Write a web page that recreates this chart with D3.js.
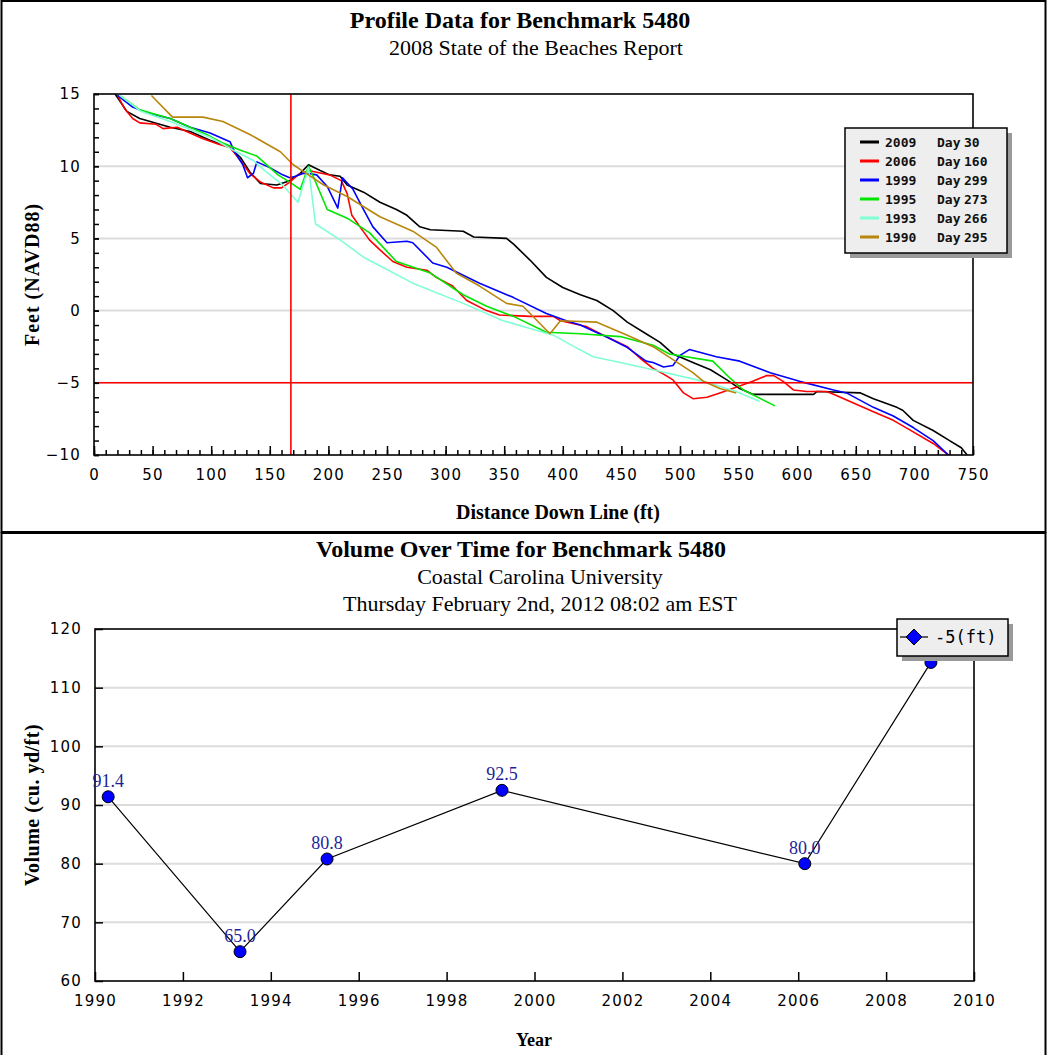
<!DOCTYPE html>
<html>
<head>
<meta charset="utf-8">
<script src="https://cdn.jsdelivr.net/npm/d3@7"></script>
<style>
  body { margin: 0; background: #fff; }
</style>
</head>
<body>
<svg id="chart" width="1047" height="1055"></svg>
<script>
// ---- profile data (distance down line in ft, elevation in ft NAVD88) ----
const dist2009 = [18, 28, 39, 65, 82, 99, 116, 125, 133, 142, 156, 167, 176, 183, 193, 201, 210, 216, 230, 244, 258, 267, 278, 287, 315, 324, 352, 358, 372, 386, 400, 415, 429, 443, 455, 471, 483, 494, 511, 526, 540, 551, 562, 614, 617, 654, 665, 685, 690, 699, 716, 730, 740, 745];
const elev2009 = [15.0, 13.8, 13.3, 12.7, 12.4, 11.8, 11.3, 10.6, 9.6, 8.8, 8.7, 9.0, 9.5, 10.1, 9.7, 9.4, 9.3, 8.7, 8.2, 7.5, 7.0, 6.6, 5.8, 5.6, 5.5, 5.1, 5.0, 4.6, 3.5, 2.3, 1.6, 1.1, 0.7, 0.0, -0.8, -1.6, -2.2, -3.0, -3.6, -4.1, -4.8, -5.4, -5.8, -5.8, -5.6, -5.7, -6.1, -6.7, -6.9, -7.6, -8.3, -9.0, -9.5, -10.0];

const dist2006 = [20, 26, 33, 39, 53, 59, 71, 79, 93, 107, 116, 125, 133, 142, 153, 160, 167, 174, 178, 183, 195, 201, 211, 216, 220, 227, 235, 244, 255, 267, 284, 292, 306, 318, 335, 346, 372, 392, 398, 420, 437, 455, 466, 477, 486, 494, 503, 511, 523, 534, 548, 562, 574, 580, 588, 597, 608, 625, 631, 648, 665, 682, 699, 716, 729];
const elev2006 = [14.9, 14.0, 13.3, 13.0, 12.9, 12.6, 12.7, 12.4, 11.9, 11.5, 11.3, 10.4, 9.5, 8.9, 8.5, 8.5, 8.9, 9.4, 9.5, 9.7, 9.5, 9.4, 9.0, 8.1, 6.6, 5.8, 4.9, 4.2, 3.4, 3.0, 2.8, 2.3, 1.7, 0.7, 0.0, -0.3, -0.4, -0.4, -0.7, -1.1, -1.8, -2.5, -3.3, -4.0, -4.4, -4.8, -5.7, -6.1, -6.0, -5.7, -5.3, -4.9, -4.5, -4.5, -4.9, -5.5, -5.6, -5.6, -5.8, -6.4, -7.0, -7.6, -8.4, -9.2, -10.0];

const dist1999 = [20, 33, 45, 65, 82, 99, 116, 120, 127, 131, 136, 139, 150, 161, 167, 172, 178, 183, 190, 199, 208, 212, 221, 230, 238, 250, 267, 272, 289, 301, 329, 358, 386, 403, 415, 434, 454, 471, 477, 486, 494, 500, 508, 531, 551, 577, 602, 631, 642, 665, 682, 699, 716, 729];
const elev1999 = [14.9, 14.1, 13.7, 13.3, 12.7, 12.3, 11.7, 11.0, 10.1, 9.2, 9.5, 10.3, 9.9, 9.4, 9.2, 9.3, 9.5, 9.5, 9.4, 8.6, 7.1, 9.2, 8.4, 7.0, 5.8, 4.7, 4.8, 4.7, 3.3, 3.0, 1.9, 0.9, -0.2, -0.7, -1.0, -1.7, -2.5, -3.5, -3.6, -3.9, -3.8, -3.1, -2.7, -3.2, -3.5, -4.3, -4.9, -5.5, -5.7, -6.7, -7.3, -8.1, -9.0, -10.0];

const dist1995 = [22, 39, 65, 82, 96, 110, 125, 139, 157, 167, 176, 183, 187, 199, 216, 235, 258, 287, 315, 335, 358, 386, 415, 449, 477, 491, 528, 543, 554, 581];
const elev1995 = [14.9, 13.9, 13.3, 12.7, 12.2, 11.6, 11.1, 10.7, 9.4, 8.9, 8.4, 10.0, 9.3, 7.0, 6.4, 5.4, 3.4, 2.6, 1.1, 0.3, -0.4, -1.5, -1.6, -1.8, -2.4, -3.0, -3.5, -4.7, -5.5, -6.6];

const dist1993 = [22, 40, 65, 99, 119, 136, 147, 161, 174, 183, 189, 210, 230, 272, 315, 349, 392, 412, 426, 449, 477, 520, 548, 568];
const elev1993 = [14.9, 13.8, 13.1, 12.0, 11.1, 10.4, 9.6, 8.7, 7.5, 9.9, 6.0, 4.9, 3.7, 1.9, 0.5, -0.7, -1.7, -2.6, -3.2, -3.6, -4.1, -4.9, -5.6, -6.3];

const dist1990 = [49, 67, 93, 110, 133, 159, 170, 181, 196, 216, 244, 272, 292, 309, 329, 352, 366, 389, 398, 429, 455, 477, 494, 511, 520, 534, 548];
const elev1990 = [14.9, 13.4, 13.4, 13.1, 12.2, 11.0, 10.1, 9.5, 8.7, 7.9, 6.5, 5.5, 4.4, 2.6, 1.7, 0.5, 0.3, -1.6, -0.7, -0.8, -1.7, -2.5, -3.4, -4.3, -4.9, -5.4, -5.7];

const surveyYears = ['2009', '2006', '1999', '1995', '1993', '1990'];
const surveyDays = ['30', '160', '299', '273', '266', '295'];
const distTicks = [0, 50, 100, 150, 200, 250, 300, 350, 400, 450, 500, 550, 600, 650, 700, 750];
const elevTicks = [-10, -5, 0, 5, 10, 15];
const markerDist = 168;
const markerElev = -5;

// ---- volume data ----
const volYears = [1990.3, 1993.3, 1995.28, 1999.26, 2006.15, 2009.02];
const volValues = [91.4, 65.0, 80.8, 92.5, 80.0, 114.3];
const yearTicks = [1990, 1992, 1994, 1996, 1998, 2000, 2002, 2004, 2006, 2008, 2010];
const volTicks = [60, 70, 80, 90, 100, 110, 120];

const series = [
  { dist: dist2009, elev: elev2009, color: '#000000' },
  { dist: dist2006, elev: elev2006, color: '#ff0000' },
  { dist: dist1999, elev: elev1999, color: '#0000ff' },
  { dist: dist1995, elev: elev1995, color: '#00e600' },
  { dist: dist1993, elev: elev1993, color: '#80ffd4' },
  { dist: dist1990, elev: elev1990, color: '#b8860b' }
];

const serif = '"Liberation Serif", "Times New Roman", serif';
const sans = '"DejaVu Sans", Verdana, sans-serif';
const mono = '"DejaVu Sans Mono", monospace';

const svg = d3.select('#chart');

// panel frames
svg.append('rect').attr('x', 1.5).attr('y', 1).attr('width', 1044).attr('height', 531)
  .attr('fill', 'none').attr('stroke', '#000').attr('stroke-width', 2);
svg.append('rect').attr('x', 1.5).attr('y', 533).attr('width', 1044).attr('height', 530)
  .attr('fill', 'none').attr('stroke', '#000').attr('stroke-width', 2);

function styleAxis(g) {
  g.select('.domain').remove();
  g.attr('font-family', sans).attr('font-size', 15);
  g.selectAll('.tick line').attr('stroke', '#000').attr('stroke-width', 1.5);
  g.selectAll('.tick text').attr('fill', '#000').attr('letter-spacing', 1.2);
}

function title(x, y, txt, bold) {
  svg.append('text').attr('x', x).attr('y', y).attr('text-anchor', 'middle')
    .attr('font-family', serif)
    .attr('font-weight', bold ? 'bold' : 'normal')
    .attr('font-size', bold ? 24 : 22)
    .text(txt);
}

// =================== top chart: profiles ===================
const x1 = d3.scaleLinear().domain([0, 750]).range([94, 973]);
const y1 = d3.scaleLinear().domain([-10, 15]).range([455, 94]);

title(520, 28, 'Profile Data for Benchmark 5480', true);
title(536, 55, '2008 State of the Beaches Report', false);

// gridlines
svg.append('g').selectAll('line')
  .data(elevTicks.filter(d => d > -10 && d < 15))
  .join('line')
  .attr('x1', x1(0)).attr('x2', x1(750))
  .attr('y1', d => y1(d)).attr('y2', d => y1(d))
  .attr('stroke', '#dcdcdc').attr('stroke-width', 2);

svg.append('defs').append('clipPath').attr('id', 'clip1')
  .append('rect').attr('x', x1(0)).attr('y', y1(15))
  .attr('width', x1(750) - x1(0)).attr('height', y1(-10) - y1(15));

const line1 = d3.line().x(d => x1(d[0])).y(d => y1(d[1]));
const lines = svg.append('g').attr('clip-path', 'url(#clip1)');
series.forEach(s => {
  lines.append('path')
    .datum(s.dist.map((d, i) => [d, s.elev[i]]))
    .attr('d', line1)
    .attr('fill', 'none')
    .attr('stroke', s.color)
    .attr('stroke-width', 1.6)
    .attr('stroke-linejoin', 'round');
});

// red reference lines
lines.append('line').attr('x1', x1(markerDist)).attr('x2', x1(markerDist))
  .attr('y1', y1(15)).attr('y2', y1(-10)).attr('stroke', '#ff0000').attr('stroke-width', 1.6);
lines.append('line').attr('x1', x1(0)).attr('x2', x1(750))
  .attr('y1', y1(markerElev)).attr('y2', y1(markerElev)).attr('stroke', '#ff0000').attr('stroke-width', 1.6);

// axes
svg.append('g').attr('transform', `translate(0,${y1(-10)})`)
  .call(d3.axisBottom(x1).tickValues(d3.range(0, 751, 10)).tickSize(-5).tickFormat(''))
  .call(styleAxis);
svg.append('g').attr('transform', `translate(0,${y1(-10)})`)
  .call(d3.axisBottom(x1).tickValues(distTicks).tickSize(-9).tickPadding(14))
  .call(styleAxis);
svg.append('g').attr('transform', `translate(${x1(0)},0)`)
  .call(d3.axisLeft(y1).tickValues(d3.range(-10, 16, 1)).tickSize(-5).tickFormat(''))
  .call(styleAxis);
svg.append('g').attr('transform', `translate(${x1(0)},0)`)
  .call(d3.axisLeft(y1).tickValues(elevTicks).tickSize(-5).tickPadding(13).tickFormat(d3.format('d')))
  .call(styleAxis);

svg.append('rect').attr('x', x1(0)).attr('y', y1(15))
  .attr('width', x1(750) - x1(0)).attr('height', y1(-10) - y1(15))
  .attr('fill', 'none').attr('stroke', '#000').attr('stroke-width', 1.6);

svg.append('text').attr('x', 558).attr('y', 519).attr('text-anchor', 'middle')
  .attr('font-family', serif).attr('font-weight', 'bold').attr('font-size', 20)
  .text('Distance Down Line (ft)');
svg.append('text').attr('transform', `translate(39,${(y1(15) + y1(-10)) / 2}) rotate(-90)`)
  .attr('text-anchor', 'middle').attr('letter-spacing', 1)
  .attr('font-family', serif).attr('font-weight', 'bold').attr('font-size', 20)
  .text('Feet (NAVD88)');

// legend
const lg1 = svg.append('g').attr('transform', 'translate(845,128)');
lg1.append('rect').attr('x', 5).attr('y', 5).attr('width', 162).attr('height', 125).attr('fill', '#9a9a9a');
lg1.append('rect').attr('width', 162).attr('height', 125).attr('fill', '#eeeeee')
  .attr('stroke', '#000').attr('stroke-width', 1.5);
series.forEach((s, i) => {
  const ry = 14 + i * 19;
  lg1.append('line').attr('x1', 15).attr('x2', 34).attr('y1', ry).attr('y2', ry)
    .attr('stroke', s.color).attr('stroke-width', 3);
  const t = lg1.append('g').attr('font-family', mono).attr('font-size', 13)
    .attr('font-weight', 'bold').attr('fill', '#111');
  t.append('text').attr('x', 40).attr('y', ry + 5).text(surveyYears[i]);
  t.append('text').attr('x', 92).attr('y', ry + 5).text('Day');
  t.append('text').attr('x', 119).attr('y', ry + 5).text(surveyDays[i]);
});

// =================== bottom chart: volume ===================
const x2 = d3.scaleLinear().domain([1990, 2010]).range([95, 974]);
const y2 = d3.scaleLinear().domain([60, 120]).range([981, 629]);

title(521, 557, 'Volume Over Time for Benchmark 5480', true);
title(540, 584, 'Coastal Carolina University', false);
title(540, 611, 'Thursday February 2nd, 2012 08:02 am EST', false);

svg.append('g').selectAll('line')
  .data(volTicks.filter(d => d > 60 && d < 120))
  .join('line')
  .attr('x1', x2(1990)).attr('x2', x2(2010))
  .attr('y1', d => y2(d)).attr('y2', d => y2(d))
  .attr('stroke', '#dcdcdc').attr('stroke-width', 2);

svg.append('g').attr('transform', `translate(0,${y2(60)})`)
  .call(d3.axisBottom(x2).tickValues(yearTicks).tickSize(-9).tickPadding(14).tickFormat(d3.format('d')))
  .call(styleAxis);
svg.append('g').attr('transform', `translate(${x2(1990)},0)`)
  .call(d3.axisLeft(y2).tickValues(volTicks).tickSize(-8).tickPadding(13))
  .call(styleAxis);

svg.append('rect').attr('x', x2(1990)).attr('y', y2(120))
  .attr('width', x2(2010) - x2(1990)).attr('height', y2(60) - y2(120))
  .attr('fill', 'none').attr('stroke', '#000').attr('stroke-width', 1.6);

// legend box position (the label of a point lying under it is hidden)
const lg2Box = { x: 897, y: 619, w: 111, h: 37 };

const volPts = volYears.map((d, i) => [d, volValues[i]]);
svg.append('path').datum(volPts)
  .attr('d', d3.line().x(d => x2(d[0])).y(d => y2(d[1])))
  .attr('fill', 'none').attr('stroke', '#000').attr('stroke-width', 1.2);
svg.append('g').selectAll('circle').data(volPts).join('circle')
  .attr('cx', d => x2(d[0])).attr('cy', d => y2(d[1])).attr('r', 6)
  .attr('fill', '#0000ff').attr('stroke', '#000').attr('stroke-width', 1);
svg.append('g').selectAll('text')
  .data(volPts.filter(d => {
    const lx = x2(d[0]), ly = y2(d[1]) - 10;
    return !(lx > lg2Box.x && lx < lg2Box.x + lg2Box.w && ly > lg2Box.y && ly < lg2Box.y + lg2Box.h + 6);
  }))
  .join('text')
  .attr('x', d => x2(d[0])).attr('y', d => y2(d[1]) - 10)
  .attr('text-anchor', 'middle')
  .attr('font-family', serif).attr('font-size', 18).attr('fill', '#1f1f99')
  .text(d => d[1].toFixed(1));

svg.append('text').attr('x', 534).attr('y', 1046).attr('text-anchor', 'middle')
  .attr('font-family', serif).attr('font-weight', 'bold').attr('font-size', 18)
  .text('Year');
svg.append('text').attr('transform', `translate(39,${(y2(120) + y2(60)) / 2}) rotate(-90)`)
  .attr('text-anchor', 'middle').attr('letter-spacing', 0.5)
  .attr('font-family', serif).attr('font-weight', 'bold').attr('font-size', 20)
  .text('Volume (cu. yd/ft)');

// legend
const lg2 = svg.append('g').attr('transform', `translate(${lg2Box.x},${lg2Box.y})`);
lg2.append('rect').attr('x', 5).attr('y', 5).attr('width', lg2Box.w).attr('height', lg2Box.h).attr('fill', '#9a9a9a');
lg2.append('rect').attr('width', lg2Box.w).attr('height', lg2Box.h).attr('fill', '#eeeeee')
  .attr('stroke', '#000').attr('stroke-width', 1.5);
lg2.append('line').attr('x1', 3).attr('x2', 31).attr('y1', 18).attr('y2', 18)
  .attr('stroke', '#000').attr('stroke-width', 1.2);
lg2.append('path').attr('d', 'M17,10 L25,18 L17,26 L9,18 Z')
  .attr('fill', '#0000ff').attr('stroke', '#000').attr('stroke-width', 1);
lg2.append('text').attr('x', 38).attr('y', 24)
  .attr('font-family', mono).attr('font-size', 17).attr('fill', '#000')
  .text('-5(ft)');
</script>
</body>
</html>
